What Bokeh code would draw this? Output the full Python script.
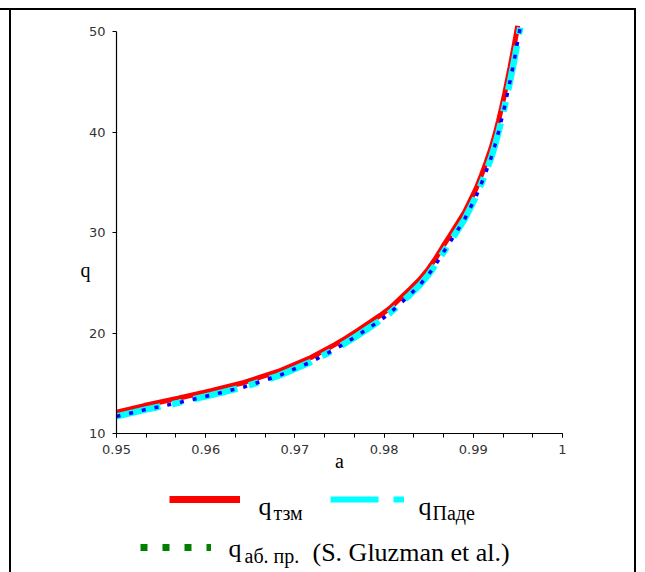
from bokeh.plotting import figure
from bokeh.layouts import column, row
from bokeh.models import (Label, Legend, LegendItem, Range1d, FixedTicker,
                          NumeralTickFormatter, LinearAxis, Spacer, Div)
from bokeh.embed import file_html
from bokeh.resources import INLINE

# ---- data ----
a_tzm = [0.9500, 0.9531, 0.9569, 0.9606, 0.9643, 0.9681, 0.9718, 0.97447,
         0.97571, 0.97702, 0.97832, 0.97955, 0.98067, 0.98179, 0.98291,
         0.98403, 0.98497, 0.98579, 0.98661, 0.98736, 0.98822, 0.98904,
         0.99035, 0.99092, 0.99145, 0.99199, 0.99242, 0.99282, 0.99316,
         0.99351, 0.99383, 0.99413, 0.99442, 0.99472, 0.99498]
q_tzm = [12.12, 12.78, 13.51, 14.26, 15.08, 16.17, 17.56, 18.84,
         19.49, 20.23, 21.01, 21.75, 22.48, 23.43, 24.37,
         25.36, 26.40, 27.45, 28.64, 29.68, 30.90, 32.05,
         34.45, 35.74, 37.00, 38.40, 39.70, 41.09, 42.39,
         43.79, 45.18, 46.50, 47.83, 49.28, 50.60]

a_pade = [0.9500, 0.9531, 0.9569, 0.9606, 0.9643, 0.9681, 0.9718, 0.97447,
          0.97571, 0.97702, 0.97832, 0.97955, 0.98067, 0.98179, 0.98291,
          0.98403, 0.98497, 0.98579, 0.98661, 0.98736, 0.98822, 0.98904,
          0.99035, 0.99092, 0.99145, 0.99199, 0.99242, 0.99282, 0.99316,
          0.99351, 0.99383, 0.99413, 0.99442, 0.99472, 0.99498, 0.99526]
q_pade = [11.70, 12.35, 13.05, 13.82, 14.63, 15.72, 17.12, 18.38,
          19.02, 19.75, 20.52, 21.24, 22.01, 22.90, 23.83,
          24.80, 25.80, 26.82, 27.98, 29.00, 30.20, 31.35,
          33.68, 34.91, 36.10, 37.43, 38.66, 39.98, 41.21,
          42.54, 43.86, 45.12, 46.39, 47.78, 49.04, 50.40]

a_gluz = [0.9500, 0.9531, 0.9569, 0.9606, 0.9643, 0.9681, 0.9718, 0.97447,
          0.97571, 0.97702, 0.97832, 0.97955, 0.98067, 0.98179, 0.98291,
          0.98403, 0.98497, 0.98579, 0.98661, 0.98736, 0.98822, 0.98904,
          0.99035, 0.99092, 0.99145, 0.99199, 0.99242, 0.99282, 0.99316,
          0.99351, 0.99383, 0.99413, 0.99442, 0.99472, 0.99498, 0.99526]
q_gluz = [11.70, 12.35, 13.05, 13.82, 14.63, 15.72, 17.12, 18.38,
          19.02, 19.75, 20.52, 21.24, 22.01, 22.90, 23.83,
          24.80, 25.80, 26.82, 27.98, 29.00, 30.20, 31.35,
          33.68, 34.91, 36.10, 37.43, 38.66, 39.98, 41.21,
          42.54, 43.86, 45.12, 46.39, 47.78, 49.04, 50.40]

x_ticks = [0.95, 0.96, 0.97, 0.98, 0.99, 1.0]
x_tick_labels = ["0.95", "0.96", "0.97", "0.98", "0.99", "1"]
y_ticks = [10, 20, 30, 40, 50]

# ---- layout (page px) ----
W, H = 645, 572
OX, OY = 11, 10                # origin of the main figure on the page
MW, MH = 623, 478              # main figure size
FL, FR, FT, FB = 116, 562, 25, 433   # frame edges on the page
LH = H - OY - MH               # legend strip height
LY = OY + MH                   # legend strip top on the page
TXT_DY = 8                     # baseline correction for legend texts

p = figure(width=MW, height=MH, output_backend="svg", toolbar_location=None,
           x_range=Range1d(0.95, 1.0), y_range=Range1d(10, 50.6),
           min_border_left=FL - OX, min_border_right=OX + MW - FR,
           min_border_top=FT - OY, min_border_bottom=OY + MH - FB)
p.outline_line_color = None
p.grid.visible = False
p.background_fill_color = "white"
p.border_fill_color = "white"

# curves
p.line(a_tzm, q_tzm, line_color="#ff0000", line_width=5)
p.line(a_pade, q_pade, line_color="#00ffff", line_width=6.5,
       line_dash="45 12 10 12")
p.line(a_gluz, q_gluz, line_color="#0000ff", line_width=3.5,
       line_dash="4 9")

# axes
xa = p.xaxis[0]
ya = p.yaxis[0]
minor = [0.95 + k * 0.01 / 3 for k in range(16)]
xa.ticker = FixedTicker(ticks=x_ticks, minor_ticks=minor)
xa.formatter = NumeralTickFormatter(format="0.[00]")
xa.major_label_overrides = {t: s for t, s in zip(x_ticks, x_tick_labels)}
xa.bounds = (0.95, 1.0)
ya.ticker = FixedTicker(ticks=y_ticks)
ya.bounds = (10, 50)
ya.minor_tick_line_color = None
for ax in (xa, ya):
    ax.axis_line_color = "black"
    ax.axis_line_width = 1.2
    ax.major_tick_line_color = "black"
    ax.major_tick_in = 0
    ax.major_tick_out = 4
    ax.major_label_text_font = "DejaVu Sans"
    ax.major_label_text_font_size = "13px"
    ax.major_label_text_color = "#333333"
    ax.major_label_standoff = 7
xa.minor_tick_line_color = "black"
xa.minor_tick_in = 0
xa.minor_tick_out = 4
xa.axis_label = "a"
xa.axis_label_text_font = "Liberation Serif"
xa.axis_label_text_font_size = "20px"
xa.axis_label_text_font_style = "normal"
xa.axis_label_text_color = "black"
xa.axis_label_standoff = -7

# the horizontal "q" title, placed beside the y axis at its height
q_title_at = 26.3
qax = LinearAxis(ticker=FixedTicker(ticks=[q_title_at]),
                 major_label_overrides={q_title_at: "q"},
                 axis_line_color=None, major_tick_line_color=None,
                 minor_tick_line_color=None,
                 major_label_text_font="Liberation Serif",
                 major_label_text_font_size="20px",
                 major_label_text_color="black", major_label_standoff=-11)
p.add_layout(qax, "left")

# ---- legend strip under the plot (its frame lines up with the main one) ----
lg = figure(width=MW, height=LH, output_backend="svg", toolbar_location=None,
            title=None, x_range=Range1d(FL, FR), y_range=Range1d(H, LY),
            min_border_left=FL - OX, min_border_right=OX + MW - FR,
            min_border_top=0, min_border_bottom=0,
            x_axis_location=None, y_axis_location=None)
lg.outline_line_color = None
lg.grid.visible = False
lg.background_fill_color = "white"
lg.border_fill_color = "white"


def lab(text, cx, cy, size):
    lg.add_layout(Label(x=cx, y=cy - TXT_DY, text=text,
                        text_font="Liberation Serif", text_font_size=size,
                        text_align="left", text_baseline="alphabetic",
                        text_color="black"))


def sample(color, width, dash, x0, x1, yc):
    # a renderer holding one empty (NaN) point, used only for its legend glyph
    r = lg.line([float("nan")], [float("nan")], line_color=color,
                line_width=width, line_dash=dash)
    h = 12
    leg = Legend(items=[LegendItem(label=" ", renderers=[r])],
                 location=(x0 - FL, H - (yc + h / 2)),
                 orientation="horizontal", padding=0, margin=0, spacing=0,
                 glyph_width=x1 - x0, glyph_height=h, label_width=0,
                 label_height=h, label_standoff=0,
                 label_text_font_size="2px", border_line_color=None,
                 background_fill_alpha=0)
    lg.add_layout(leg, "center")


sample("#ff0000", 7, "solid", 169, 240, 499)
sample("#00ffff", 6, "48 15 11 15", 330, 404, 499)
sample("#008000", 7, "7 15", 140, 211, 547)

lab("q", 258, 514, "26px")
lab("тзм", 273, 520, "20px")
lab("q", 418, 514, "26px")
lab("Паде", 432, 520, "20px")
lab("q", 228, 556, "26px")
lab("аб. пр.", 244, 563, "20px")
lab("(S. Gluzman et al.)", 312, 560, "26px")


# ---- black frame lines ----
def bar(w, h):
    return Div(text="", width=w, height=h, margin=0,
               styles={"background-color": "black"})


BODY = H - OY
layout = column(
    Spacer(width=W, height=OY - 2, margin=0),
    row(bar(OX + MW + 2, 2), Spacer(width=W - OX - MW - 2, height=2,
                                    margin=0)),
    row(Spacer(width=OX - 2, height=BODY, margin=0), bar(2, BODY),
        column(p, lg), bar(2, BODY),
        Spacer(width=W - OX - MW - 2, height=BODY, margin=0)),
)

open("out.html", "w").write(file_html(layout, INLINE))
